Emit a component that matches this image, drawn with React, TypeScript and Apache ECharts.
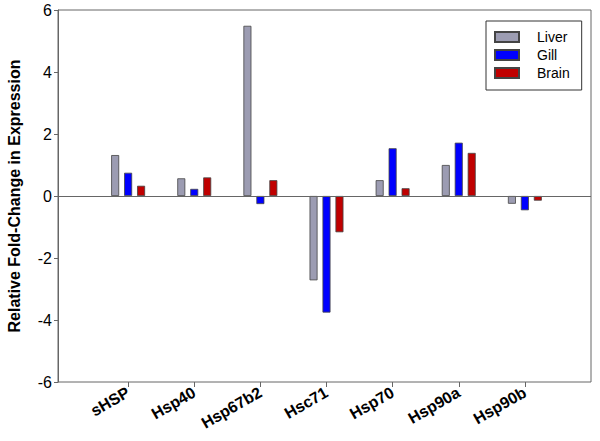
import React, { useEffect, useRef } from "react";
import * as echarts from "echarts";

const categories = ["sHSP", "Hsp40", "Hsp67b2", "Hsc71", "Hsp70", "Hsp90a", "Hsp90b"];
const liver = [1.32, 0.57, 5.49, -2.72, 0.51, 1.0, -0.25];
const gill = [0.75, 0.23, -0.26, -3.76, 1.54, 1.72, -0.46];
const brain = [0.33, 0.6, 0.51, -1.17, 0.25, 1.39, -0.15];
const yTicks = [-6, -4, -2, 0, 2, 4, 6];
const yTitle = "Relative Fold-Change in Expression";

const FONT = "'Liberation Sans', Arial, sans-serif";

export default function App() {
  const ref = useRef<HTMLDivElement>(null);
  useEffect(() => {
    document.body.style.margin = "0";
    const chart = echarts.init(ref.current!, null, { renderer: "svg" });
    const pad = (arr: number[]) => ["-", ...arr, "-"];
    const xData = ["", ...categories, ""];
    const yMin = yTicks[0];
    const yMax = yTicks[yTicks.length - 1];
    const mk = (name: string, data: number[], color: string, extra: any = {}) => ({
      name,
      type: "bar",
      xAxisIndex: 1,
      yAxisIndex: 1,
      data: pad(data),
      barWidth: 8,
      barGap: "62%",
      itemStyle: { color, borderColor: "#444", borderWidth: 0.8 },
      ...extra,
    });
    chart.setOption({
      animation: false,
      textStyle: { fontFamily: FONT },
      grid: [
        {
          left: 58,
          right: 9,
          top: 10,
          bottom: 59,
          show: true,
          borderColor: "#666",
          borderWidth: 1,
        },
        { left: 62, right: 9, top: 10, bottom: 59 },
      ],
      graphic: [
        {
          type: "text",
          x: 14,
          y: 196,
          rotation: Math.PI / 2,
          style: {
            text: yTitle,
            fontSize: 16,
            fontWeight: "bold",
            fill: "#000",
            fontFamily: FONT,
            textAlign: "center",
            textVerticalAlign: "middle",
            align: "center",
            verticalAlign: "middle",
          },
        },
      ],
      legend: {
        left: 486,
        top: 21,
        orient: "vertical",
        padding: [9, 12, 10, 8],
        itemGap: 4,
        itemWidth: 24,
        itemHeight: 10,
        borderColor: "#333",
        borderWidth: 1,
        icon: "rect",
        textStyle: { fontSize: 14, color: "#000", fontFamily: FONT, padding: [0, 0, 0, 13] },
        data: ["Liver", "Gill", "Brain"],
      },
      xAxis: [
        {
          gridIndex: 0,
          type: "value",
          min: 0,
          max: 1,
          show: false,
        },
        {
          gridIndex: 1,
          type: "category",
          data: xData,
          boundaryGap: false,
          axisLine: { show: false, onZero: false },
          axisTick: {
            show: true,
            length: 5,
            interval: (i: number) => i > 0 && i < xData.length - 1,
            lineStyle: { color: "#666" },
          },
          axisLabel: {
            rotate: 30,
            margin: 9,
            fontSize: 16,
            fontWeight: "bold",
            color: "#000",
            fontFamily: FONT,
            interval: 0,
          },
          splitLine: { show: false },
        },
      ],
      yAxis: [
        {
          gridIndex: 0,
          type: "value",
          min: yMin,
          max: yMax,
          interval: 2,
          axisLine: { show: true, lineStyle: { color: "#666" } },
          axisTick: { show: true, length: 4, lineStyle: { color: "#666" } },
          axisLabel: { fontSize: 16, color: "#000", margin: 6, fontFamily: FONT },
          splitLine: { show: false },
        },
        {
          gridIndex: 1,
          type: "value",
          min: yMin,
          max: yMax,
          interval: 2,
          show: false,
          splitLine: { show: false },
        },
      ],
      series: [
        mk("Liver", liver, "#9c9cb2", {
          markLine: {
            silent: true,
            symbol: "none",
            label: { show: false },
            lineStyle: { color: "#666", type: "solid", width: 1 },
            data: [[{ coord: ["", 0], x: 58 }, { coord: ["", 0], x: 591 }]],
          },
        }),
        mk("Gill", gill, "#0000ff"),
        mk("Brain", brain, "#c00000"),
      ],
    });
    return () => chart.dispose();
  }, []);
  return <div ref={ref} style={{ width: 600, height: 441 }} />;
}
